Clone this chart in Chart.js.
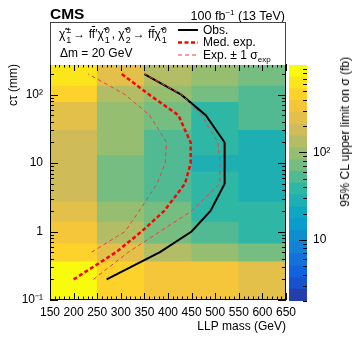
<!DOCTYPE html>
<html>
<head>
<meta charset="utf-8">
<script src="https://cdn.jsdelivr.net/npm/chart.js@4.4.0/dist/chart.umd.min.js"></script>
<style>
body { margin: 0; background: #fff; }
#wrap { position: relative; width: 357px; height: 342px; font-family: "Liberation Sans", Arial, sans-serif; color: #000; }
#main { position: absolute; left: 0; top: 0; }
#cbar { position: absolute; left: 280px; top: 0; }
.t { position: absolute; white-space: nowrap; font-size: 12px; line-height: 14px; }
.ss { display: inline-flex; flex-direction: column; font-size: 9px; line-height: 9.5px; vertical-align: 4.5px; margin: 0 2px 0 1px; }
.ob { text-decoration: overline; }
#box { position: absolute; left: 50px; top: 22px; width: 236px; height: 43px; box-sizing: border-box; border: 1px solid #444; border-bottom: none; background: #fff; }
#ztitle { position: absolute; left: 338px; top: 57px; font-size: 12px; line-height: 14px; writing-mode: vertical-rl; transform: rotate(180deg); white-space: nowrap; }
svg { position: absolute; }
</style>
</head>
<body>
<div id="wrap">
  <canvas id="main" width="357" height="342"></canvas>
  <canvas id="cbar" width="77" height="342"></canvas>
  <div class="t" style="left:50px;top:5px;font-size:15.5px;line-height:18px;font-weight:bold;">CMS</div>
  <div class="t" style="right:72px;top:6px;font-size:12.5px;">100 fb<sup style="font-size:8px;">−1</sup> (13 TeV)</div>
  <div id="box"></div>
  <div class="t" style="left:59px;top:26px;">χ̃<span class="ss"><span>±</span><span>1</span></span>→ f<span class="ob">f</span>′χ̃<span class="ss"><span>0</span><span>1</span></span>, χ̃<span class="ss"><span>0</span><span>2</span></span>→ f<span class="ob">f</span>χ̃<span class="ss"><span>0</span><span>1</span></span></div>
  <div class="t" style="left:60px;top:46px;">Δm = 20 GeV</div>
  <svg style="left:176px;top:24px;" width="24" height="36">
    <line x1="2" y1="6" x2="22" y2="6" stroke="#000" stroke-width="2"/>
    <line x1="2" y1="18.5" x2="22" y2="18.5" stroke="#ff0000" stroke-width="2.5" stroke-dasharray="4,2.5"/>
    <line x1="2" y1="31" x2="22" y2="31" stroke="#f04040" stroke-width="1" stroke-dasharray="4,3"/>
  </svg>
  <div class="t" style="left:203px;top:23px;">Obs.</div>
  <div class="t" style="left:203px;top:35px;">Med. exp.</div>
  <div class="t" style="left:203px;top:48px;">Exp. ± 1 σ<sub style="font-size:8px;">exp</sub></div>
  <div id="ztitle">95% CL upper limit on σ (fb)</div>
</div>
<script>
// Data
const massBins = ['150-250', '250-350', '350-450', '450-550', '550-650'];
const ctEdges = [0.1, 0.36, 0.66, 1.37, 2.7, 7.4, 13, 30, 77, 133, 280];
// 95% CL upper limit (fb), one row per ct bin (lowest ct first), one value per mass bin
const limitRows = [
    [760, 434, 360, 360, 233],
    [434, 224, 150, 104, 71],
    [360, 133, 81, 56, 41],
    [248, 104, 71, 41, 39],
    [181, 81, 49, 36, 30],
    [181, 81, 56, 27, 30],
    [181, 86, 59, 41, 30],
    [233, 104, 71, 44, 47],
    [434, 118, 104, 71, 56],
    [593, 233, 133, 104, 81]
];

const obsMass = [270, 383, 450, 490, 520, 520, 480, 428, 350];
const obsCt = [0.2, 0.5, 1, 2, 5, 20, 50, 100, 200];
const expMass = [200, 290, 344, 392, 436, 448, 448, 422, 360, 302];
const expCt = [0.2, 0.5, 1, 2, 5, 10, 20, 50, 100, 200];
const expUpMass = [242, 316, 383, 450, 510, 510, 506, 471, 429, 350];
const expUpCt = [0.2, 0.5, 1, 2, 5, 10, 20, 50, 100, 200];
const expDnMass = [238, 309, 339, 377, 394, 397, 361, 309, 231];
const expDnCt = [0.5, 1, 2, 5, 10, 20, 50, 100, 200];

const xTicks = [150, 200, 250, 300, 350, 400, 450, 500, 550, 600, 650];
const yTicks = [0.1, 1, 10, 100];
const yTickLabels = ['10⁻¹', '1', '10', '10²'];
const zTicks = [10, 100];
const zTickLabels = ['10', '10²'];

// Palette (ROOT kBird), 20 contours
const zMin = 2, zMax = 1000, nBands = 20;
const birdStops = [0, 0.125, 0.25, 0.375, 0.5, 0.625, 0.75, 0.875, 1];
const birdR = [0.2082, 0.0592, 0.0780, 0.0232, 0.1802, 0.5301, 0.8186, 0.9956, 0.9764];
const birdG = [0.1664, 0.3599, 0.5041, 0.6419, 0.7178, 0.7492, 0.7328, 0.7862, 0.9832];
const birdB = [0.5293, 0.8684, 0.8385, 0.7914, 0.6425, 0.4662, 0.3499, 0.1968, 0.0539];

function bird(t) {
    let i = 0;
    while (i < birdStops.length - 2 && t > birdStops[i + 1]) i++;
    const f = (t - birdStops[i]) / (birdStops[i + 1] - birdStops[i]);
    const c = arr => Math.round(255 * (arr[i] + f * (arr[i + 1] - arr[i])));
    return 'rgb(' + c(birdR) + ',' + c(birdG) + ',' + c(birdB) + ')';
}
function bandOf(v) {
    const k = Math.floor(Math.log(v / zMin) / Math.log(zMax / zMin) * nBands);
    return Math.max(0, Math.min(nBands - 1, k));
}
const bandColor = k => bird((k + 0.99) / nBands);
const colorOf = v => bandColor(bandOf(v));

Chart.defaults.font.family = '"Liberation Sans", Arial, sans-serif';
Chart.defaults.font.size = 12;
Chart.defaults.color = '#000';

// Heat map cells: one floating-bar dataset per ct row
const cellSets = limitRows.map((row, r) => ({
    type: 'bar',
    xAxisID: 'xc',
    yAxisID: 'y',
    data: row.map(() => [ctEdges[r], ctEdges[r + 1]]),
    backgroundColor: row.map(colorOf),
    borderWidth: 0,
    grouped: false,
    barPercentage: 1,
    categoryPercentage: 1,
    order: 2
}));

function curve(mass, ct, color, width, dash) {
    return {
        type: 'line',
        xAxisID: 'x',
        yAxisID: 'y',
        data: mass.map((m, i) => ({ x: m, y: ct[i] })),
        borderColor: color,
        borderWidth: width,
        borderDash: dash,
        pointRadius: 0,
        fill: false,
        tension: 0,
        order: 1
    };
}

const frameTicks = {
    id: 'frameTicks',
    afterDraw(chart) {
        const { ctx, chartArea: a, scales } = chart;
        ctx.save();
        ctx.strokeStyle = '#000';
        ctx.lineWidth = 1;
        ctx.strokeRect(a.left + 0.5, a.top + 0.5, a.right - a.left - 1, a.bottom - a.top - 1);
        ctx.beginPath();
        for (let m = 150; m <= 650; m += 10) {
            const px = Math.round(scales.x.getPixelForValue(m)) + 0.5;
            const len = m % 50 === 0 ? 7 : 3.5;
            ctx.moveTo(px, a.bottom); ctx.lineTo(px, a.bottom - len);
            ctx.moveTo(px, a.top); ctx.lineTo(px, a.top + len);
        }
        for (let e = -1; e <= 2; e++) {
            for (let k = 1; k <= 9; k++) {
                const v = k * Math.pow(10, e);
                if (v > 280) continue;
                const py = Math.round(scales.y.getPixelForValue(v)) + 0.5;
                const len = k === 1 ? 8 : 4;
                ctx.moveTo(a.left, py); ctx.lineTo(a.left + len, py);
                ctx.moveTo(a.right, py); ctx.lineTo(a.right - len, py);
            }
        }
        ctx.stroke();
        ctx.restore();
    }
};

new Chart(document.getElementById('main'), {
    type: 'bar',
    data: {
        labels: massBins,
        datasets: [
            ...cellSets,
            curve(expDnMass, expDnCt, '#f04040', 1, [4, 3]),
            curve(expUpMass, expUpCt, '#f04040', 1, [4, 3]),
            curve(expMass, expCt, '#ff0000', 2.5, [4, 2.5]),
            curve(obsMass, obsCt, '#000000', 2, [])
        ]
    },
    options: {
        responsive: false,
        animation: false,
        layout: { padding: { top: 64, right: 71, left: 0, bottom: 0 } },
        plugins: { legend: { display: false }, tooltip: { enabled: false } },
        scales: {
            xc: { type: 'category', labels: massBins, display: false, offset: true },
            x: {
                type: 'linear', position: 'bottom', min: 150, max: 650, offset: false,
                afterBuildTicks: s => { s.ticks = xTicks.map(v => ({ value: v })); },
                afterFit: s => { s.height = 42; },
                ticks: { autoSkip: false, maxRotation: 0, padding: 5 },
                grid: { display: false, drawTicks: false },
                border: { display: false },
                title: { display: true, text: 'LLP mass (GeV)', align: 'end', padding: { top: 0, bottom: 8 } }
            },
            y: {
                type: 'logarithmic', position: 'left', min: 0.1, max: 280, offset: false,
                afterBuildTicks: s => { s.ticks = yTicks.map(v => ({ value: v })); },
                afterFit: s => { s.width = 50; },
                ticks: { autoSkip: false, padding: 7, callback: v => yTickLabels[yTicks.indexOf(v)] },
                grid: { display: false, drawTicks: false },
                border: { display: false },
                title: { display: true, text: 'cτ (mm)', align: 'end', padding: { top: 6, bottom: 0 } }
            }
        }
    },
    plugins: [frameTicks]
});

// Colour scale
const bandSets = [];
for (let k = 0; k < nBands; k++) {
    const lo = zMin * Math.pow(zMax / zMin, k / nBands);
    const hi = zMin * Math.pow(zMax / zMin, (k + 1) / nBands);
    bandSets.push({
        data: [[lo, hi]],
        backgroundColor: bandColor(k),
        borderWidth: 0,
        grouped: false,
        barPercentage: 1,
        categoryPercentage: 1
    });
}

const zTickMarks = {
    id: 'zTickMarks',
    afterDraw(chart) {
        const { ctx, chartArea: a, scales } = chart;
        ctx.save();
        ctx.strokeStyle = '#000';
        ctx.lineWidth = 1;
        ctx.beginPath();
        for (let e = 0; e <= 2; e++) {
            for (let k = 1; k <= 9; k++) {
                const v = k * Math.pow(10, e);
                if (v < zMin || v > zMax) continue;
                const py = Math.round(scales.y.getPixelForValue(v)) + 0.5;
                const len = k === 1 ? 8 : 4;
                ctx.moveTo(a.right, py); ctx.lineTo(a.right - len, py);
            }
        }
        ctx.stroke();
        ctx.restore();
    }
};

new Chart(document.getElementById('cbar'), {
    type: 'bar',
    data: { labels: [''], datasets: bandSets },
    options: {
        responsive: false,
        animation: false,
        layout: { padding: { top: 65, left: 9, bottom: 41, right: 0 } },
        plugins: { legend: { display: false }, tooltip: { enabled: false } },
        scales: {
            x: { type: 'category', display: false, offset: true },
            y: {
                type: 'logarithmic', position: 'right', min: zMin, max: zMax,
                afterBuildTicks: s => { s.ticks = zTicks.map(v => ({ value: v })); },
                afterFit: s => { s.width = 50; },
                ticks: { autoSkip: false, padding: 6, callback: v => zTickLabels[zTicks.indexOf(v)] },
                grid: { display: false, drawTicks: false },
                border: { display: false }
            }
        }
    },
    plugins: [zTickMarks]
});
</script>
</body>
</html>
